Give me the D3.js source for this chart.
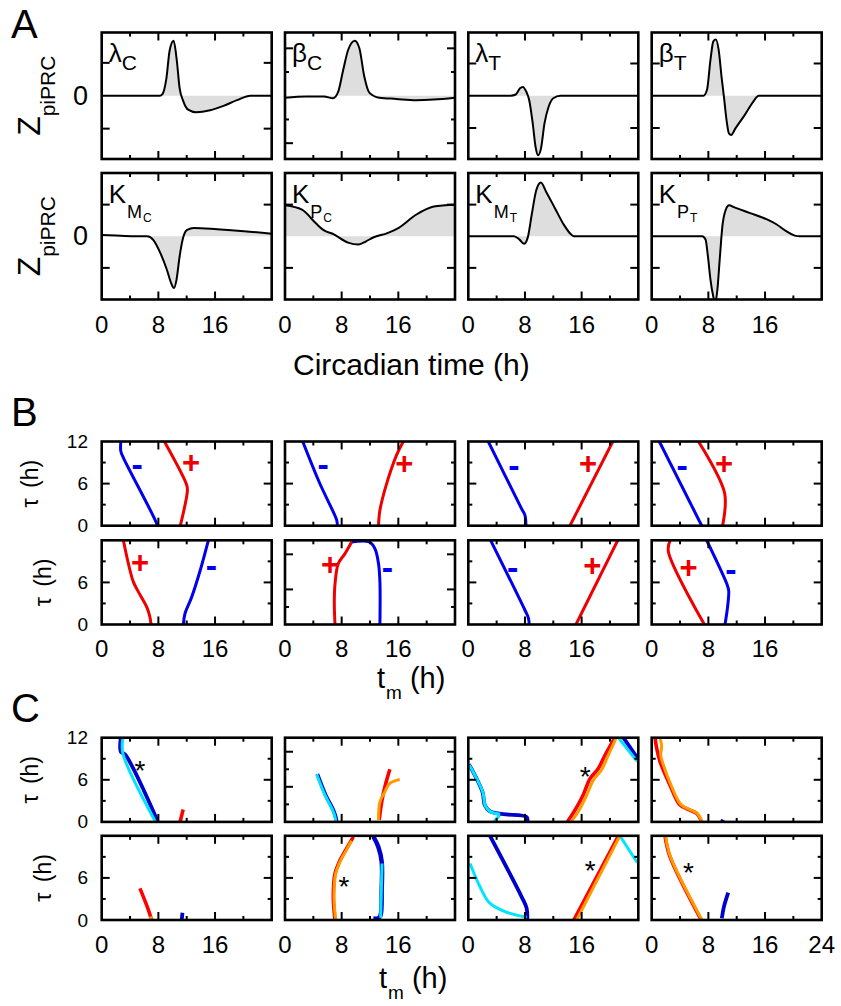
<!DOCTYPE html>
<html><head><meta charset="utf-8">
<script src="https://cdn.jsdelivr.net/npm/d3@7"></script>
<style>
body{margin:0;background:#fff}
svg{display:block}
text{font-family:"Liberation Sans",Arial,Helvetica,sans-serif;fill:#000}
</style>
</head><body>
<svg id="fig" width="841" height="1006"></svg>
<script>
// ---------------- DATA ----------------
const hourDomain = [0, 24];
const xMajorTicks = [8, 16];
const xMinorTicks = [4, 12, 20];
const xTickLabels = [0, 8, 16];
const xTickLabelsLast = [0, 8, 16, 24];
const tauDomain = [0, 12];
const tauLabelsTop = [0, 6, 12];
const tauLabelsBottom = [0, 6];

// Panel A: piPRC curves, [circadian time (h), normalized Z]
const aLabels = [["λ","C"],["β","C"],["λ","T"],["β","T"],["K","M","C"],["K","P","C"],["K","M","T"],["K","P","T"]];
const prcLambdaC = [[0,0],[8.2,0],[8.6,0.03],[9.1,0.25],[9.6,0.72],[10.15,0.87],[10.6,0.56],[11.0,0.12],[11.5,-0.08],[12.2,-0.22],[13.3,-0.26],[15.3,-0.23],[17.2,-0.16],[19.1,-0.07],[21.0,0],[24,0]];
const prcBetaC = [[0,-0.03],[3,-0.01],[5.5,-0.01],[6.8,-0.04],[7.5,0.06],[8.2,0.4],[8.9,0.72],[9.85,0.87],[10.5,0.75],[11.2,0.3],[11.9,0.05],[13.3,-0.03],[15.7,-0.05],[18.5,-0.07],[21,-0.06],[24,-0.03]];
const prcLambdaT = [[0,0],[6.0,0],[6.7,0.02],[7.3,0.12],[7.7,0.14],[8.2,0.06],[8.6,-0.07],[9.1,-0.44],[9.5,-0.81],[9.85,-0.94],[10.25,-0.84],[10.75,-0.44],[11.35,-0.17],[12.0,-0.04],[13.0,0],[24,0]];
const prcBetaT = [[0,0],[7.3,0],[7.8,0.09],[8.3,0.57],[8.7,0.86],[9.06,0.89],[9.46,0.72],[9.86,0.3],[10.2,-0.02],[10.57,-0.39],[10.92,-0.6],[11.22,-0.62],[11.8,-0.52],[13.1,-0.31],[14.3,-0.1],[15.1,0],[24,0]];
const prcKMC = [[0,0.02],[2,0.01],[4.5,0],[6.4,0],[7.3,-0.06],[8.3,-0.27],[9.2,-0.53],[9.8,-0.74],[10.2,-0.82],[10.56,-0.69],[11.0,-0.32],[11.5,-0.02],[12.07,0.1],[13.0,0.13],[16.3,0.11],[20.1,0.08],[24,0.04]];
const prcKPC = [[0,0.49],[2.4,0.42],[4.4,0.2],[5.4,0.1],[6.9,0.03],[8.9,-0.1],[10.4,-0.13],[11.45,-0.08],[12.45,-0.02],[14.45,0.05],[16,0.13],[18.5,0.34],[21,0.47],[24,0.5]];
const prcKMT = [[0,0],[6.45,0],[7.2,-0.05],[7.87,-0.12],[8.37,-0.03],[8.98,0.36],[9.6,0.73],[10.24,0.85],[11.0,0.7],[12.25,0.44],[13.5,0.18],[14.5,0.03],[14.9,0],[24,0]];
const prcKPT = [[0,0],[7.13,0],[7.6,-0.05],[7.94,-0.32],[8.3,-0.69],[8.65,-0.93],[8.96,-1.05],[9.27,-0.85],[9.6,-0.37],[9.98,0.16],[10.46,0.42],[10.93,0.49],[11.6,0.46],[13.8,0.37],[16.2,0.27],[17.6,0.19],[19.0,0.08],[20.2,0.01],[20.9,0],[24,0]];
const aCurves = [prcLambdaC, prcBetaC, prcLambdaT, prcBetaT, prcKMC, prcKPC, prcKMT, prcKPT];
// y ticks [value, isMajor]
const aYTicks = [
  [[-0.52,1],[0.52,1]],
  [[-0.75,1],[-0.375,0],[0.375,0],[0.75,1]],
  [[-0.51,1],[0.51,1]],
  [[-0.51,1],[0.51,1]],
  [[-0.5,1],[0.5,1]],
  [[-0.5,1],[0.5,1]],
  [[-0.5,1],[0.5,1]],
  [[-0.5,1],[0.5,1]]
];

// Panel B: [t_m (h), tau (h)], panels in row-major order
const bMinus = [
  [[2.7,12],[2.7,10.6],[3.1,9.6],[7.76,0.3],[7.8,0]],
  [[2.5,12],[4.9,6.05],[6.8,2.0],[7.3,0.8],[7.4,0]],
  [[2.82,12],[7.53,2.4],[8.0,1.47],[8.14,0]],
  [[1.08,12],[7.06,0]],
  [[11.53,0],[11.76,1.57],[12.7,3.9],[13.9,7.7],[15.06,12]],
  [[9.4,11.76],[11.9,11.76],[12.7,10.8],[13.2,8.7],[13.4,6.07],[13.4,0]],
  [[3.15,12],[8.0,2.03],[8.47,0.97],[8.6,0]],
  [[7.76,12],[10.6,5.8],[10.87,4.84],[10.7,2.42],[10.35,0]]
];
const bPlus = [
  [[8.85,12],[12.0,5.8],[12.1,5.0],[11.1,0]],
  [[13.2,0],[13.4,2.2],[14.35,6.0],[15.76,10.1],[16.7,12]],
  [[14.35,0],[20.4,12]],
  [[6.6,12],[10.3,4.6],[10.0,0]],
  [[3.06,12],[3.76,8.7],[4.47,6.07],[5.18,4.65],[6.35,2.5],[6.8,1.1],[6.96,0]],
  [[7.06,0],[6.96,3],[7.06,5.8],[7.53,8.7],[8.47,10.1],[9.4,11.76]],
  [[15.2,0],[21.1,12]],
  [[2.6,12],[2.35,10.4],[7.44,0]]
];
// sign markers [sign, t, tau]
const bSigns = [
  [["-",5.0,9.1],["+",12.6,9.0]],
  [["-",5.4,9.1],["+",16.85,8.9]],
  [["-",6.45,9.0],["+",16.9,8.8]],
  [["-",4.3,9.0],["+",10.2,8.8]],
  [["+",5.4,8.9],["-",15.5,8.8]],
  [["+",6.35,8.6],["-",14.45,8.45]],
  [["-",6.26,8.47],["+",17.5,8.47]],
  [["+",5.2,8.1],["-",11.2,8.2]]
];
const bYTicks = [null,null,null,null,null,[[2.5,0],[5,1],[10,1]],null,null];

// Panel C: each entry = list of segments
const cBlue = [
  [[[2.7,12],[2.7,10],[3.3,9.6],[7.9,0.1]]],
  [[[4.57,6.8],[5.75,3.8],[6.83,1.67],[7.25,0.3],[7.25,0]]],
  [[[0.1,8.2],[1.35,5.8],[2.05,4.1],[2.3,2.45],[3.0,1.55],[4.94,1.1],[8.24,0.7],[8.33,0]],[[21.9,12],[23.9,9.05]]],
  [[[9.9,0],[10.1,0.3]]],
  [[[11.3,0],[11.4,1.04]]],
  [[[12.47,11.9],[13.17,10.45],[13.65,8.3],[13.65,4.3],[13.5,0.7],[13.2,0.25],[12.47,0.2]]],
  [[[3.06,12],[7.53,3.3],[8.24,1.66],[8.33,0]]],
  [[[9.9,0.24],[10.2,1.9],[10.8,3.9]]]
];
const cCyan = [
  [[[3.0,12],[3.0,9.7],[7.6,0]]],
  [[[4.47,6.8],[5.65,3.8],[6.73,1.67],[7.15,0.3],[7.15,0]]],
  [[[0.14,8.1],[1.41,5.7],[2.1,4.05],[2.35,2.4],[3.06,1.5],[4.5,1.1]],[[3.6,0],[4.4,0.9]],[[21.2,12],[23.86,8.6]]],
  [],
  [],
  [[[13.7,8.06],[13.6,4.3],[13.5,0.3]]],
  [[[0.24,8.06],[1.65,4.74],[2.96,2.47],[5.18,1.19],[8.24,0.38]],[[21.4,12],[23.86,8.16]]],
  []
];
const cRed = [
  [[[11.06,0],[11.5,1.76]]],
  [[[13.3,0.3],[13.65,2.86],[14.1,5.0],[14.8,7.5]]],
  [[[13.98,0],[15.06,1.67],[16.2,3.8],[17.2,6.2],[18.35,7.6],[19.3,9.5],[20.7,12]]],
  [[[0.47,12],[0.7,10.5],[1.18,8.6],[2.59,5.24],[4.0,2.4],[5.4,1.67],[6.35,1.2],[7.06,0]]],
  [[[5.4,4.5],[6.6,1.42],[6.9,0.47],[7.06,0]]],
  [[[7.06,0],[6.82,3.3],[7.06,6.6],[7.76,8.5],[8.7,10.2],[9.65,11.85]]],
  [[[14.9,0],[21.2,12]]],
  [[[1.88,12],[2.55,9.1],[7.0,0]]]
];
const cOrange = [
  [],
  [[[13.2,0.3],[13.4,2.86],[13.98,4.05],[14.8,5.5],[16.2,6.05]]],
  [[[14.45,0],[15.5,1.43],[16.7,3.8],[17.65,5.95],[18.8,7.4],[19.76,9.5],[20.9,12]]],
  [[[1.18,12],[1.4,10.7],[1.27,9.5],[1.65,8.1],[2.7,5.3],[4.1,2.5],[5.5,1.7],[6.4,1.25],[7.1,0]]],
  [[[6.85,0.5],[7.06,0]]],
  [[[7.16,0],[6.92,3.3],[7.16,6.6],[7.86,8.5],[8.8,10.2],[9.4,11.3]]],
  [[[15.3,0],[21.4,12]]],
  [[[1.95,12],[2.65,9.0],[7.1,0]]]
];
const cStars = [[5.4,8.3],null,[16.5,7.4],null,null,[8.33,5.7],[17.2,8.0],[5.2,7.7]];
const cYTicks = [null,[[2.5,0],[5,1],[7.5,0],[10,1]],null,null,null,null,null,null];

// ---------------- LAYOUT ----------------
const svg = d3.select("#fig");
const colX = [101.7, 285, 468.3, 651.7];
const PW = 170;
const rowsA = [32.5, 173], hA = 126.5;
const rowsB = [441.5, 540.3], hB = 84.2;
const rowsC = [737.7, 835.8], hC = 84.2;
const COL = {blueB:"#0000ee", redB:"#ee0000", blue:"#0000cc", cyan:"#00e5ff", red:"#ff0000", orange:"#ff9a00", fill:"#dedede"};
let clipN = 0;

function makePanel(x0, y0, h, yDom) {
  const id = "clip" + (clipN++);
  svg.append("clipPath").attr("id", id).append("rect")
    .attr("x", x0).attr("y", y0).attr("width", PW).attr("height", h);
  const x = d3.scaleLinear().domain(hourDomain).range([x0, x0 + PW]);
  const y = d3.scaleLinear().domain(yDom).range([y0 + h, y0]);
  const g = svg.append("g");
  const plot = g.append("g").attr("clip-path", `url(#${id})`);
  return {x, y, g, plot, x0, y0, h};
}

function frame(p, yTicks) {
  const g = p.g;
  const xt = xMajorTicks.map(v => [v, 1]).concat(xMinorTicks.map(v => [v, 0]));
  xt.forEach(([v, m]) => {
    const L = m ? 8 : 4, xx = p.x(v);
    g.append("line").attr("x1", xx).attr("x2", xx).attr("y1", p.y0 + p.h).attr("y2", p.y0 + p.h - L).attr("stroke", "#000").attr("stroke-width", 2);
    g.append("line").attr("x1", xx).attr("x2", xx).attr("y1", p.y0).attr("y2", p.y0 + L).attr("stroke", "#000").attr("stroke-width", 2);
  });
  yTicks.forEach(([v, m]) => {
    const L = m ? 8 : 4, yy = p.y(v);
    g.append("line").attr("x1", p.x0).attr("x2", p.x0 + L).attr("y1", yy).attr("y2", yy).attr("stroke", "#000").attr("stroke-width", 2);
    g.append("line").attr("x1", p.x0 + PW).attr("x2", p.x0 + PW - L).attr("y1", yy).attr("y2", yy).attr("stroke", "#000").attr("stroke-width", 2);
  });
  g.append("rect").attr("x", p.x0).attr("y", p.y0).attr("width", PW).attr("height", p.h)
    .attr("fill", "none").attr("stroke", "#000").attr("stroke-width", 2.6);
}

function xLabels(p, vals, baseline) {
  vals.forEach(v => {
    svg.append("text").attr("x", p.x(v)).attr("y", baseline).attr("text-anchor", "middle")
      .style("font-size", "24px").text(v);
  });
}

function sectionLetter(s, y) {
  svg.append("text").attr("x", 11).attr("y", y).style("font-size", "40px").text(s);
}

// ---------------- PANEL A ----------------
sectionLetter("A", 38.3);
for (let i = 0; i < 8; i++) {
  const r = Math.floor(i / 4), c = i % 4;
  const p = makePanel(colX[c], rowsA[r], hA, [-1, 1]);
  const area = d3.area().x(d => p.x(d[0])).y0(p.y(0)).y1(d => p.y(d[1])).curve(d3.curveMonotoneX);
  const line = d3.line().x(d => p.x(d[0])).y(d => p.y(d[1])).curve(d3.curveMonotoneX);
  p.plot.append("path").attr("d", area(aCurves[i])).attr("fill", COL.fill);
  p.plot.append("path").attr("d", line(aCurves[i])).attr("fill", "none").attr("stroke", "#000").attr("stroke-width", 2);
  frame(p, aYTicks[i]);
  // label
  const lab = aLabels[i];
  const t = svg.append("text").attr("x", p.x0 + 7).attr("y", p.y0 + 29.5);
  t.append("tspan").style("font-size", "26px").text(lab[0]);
  if (lab.length === 2) {
    t.append("tspan").style("font-size", "21px").attr("dy", 8).text(lab[1]);
  } else {
    t.append("tspan").style("font-size", "18px").attr("dy", 15).attr("dx", 1).text(lab[1]);
    t.append("tspan").style("font-size", "12px").attr("dy", 4).attr("dx", 1).text(lab[2]);
  }
  if (c === 0) {
    svg.append("text").attr("x", 88).attr("y", p.y(0)).attr("text-anchor", "end")
      .attr("dominant-baseline", "central").style("font-size", "27px").text("0");
    const zl = svg.append("text").attr("transform", `translate(40,${p.y0 + p.h / 2}) rotate(-90)`)
      .attr("text-anchor", "middle");
    zl.append("tspan").style("font-size", "32px").text("Z");
    zl.append("tspan").style("font-size", "21px").attr("dy", 15).text("piPRC");
  }
  if (r === 1) xLabels(p, xTickLabels, 333);
}
svg.append("text").attr("x", 293).attr("y", 375).style("font-size", "30px").text("Circadian time (h)");

// ---------------- helpers for B & C ----------------
function tauAxisLabels(p, vals) {
  vals.forEach(v => {
    svg.append("text").attr("x", 88).attr("y", p.y(v)).attr("text-anchor", "end")
      .attr("dominant-baseline", "central").style("font-size", "19px").text(v);
  });
}
function tauTitle(x, y) {
  svg.append("text").attr("transform", `translate(${x},${y}) rotate(-90)`).attr("text-anchor", "middle")
    .style("font-size", "23px").style("word-spacing", "4px").text("τ (h)");
}
function tmTitle(x, y) {
  const t = svg.append("text").attr("x", x).attr("y", y);
  t.append("tspan").style("font-size", "29px").text("t");
  t.append("tspan").style("font-size", "19px").attr("dy", 11).attr("dx", 1).text("m");
  t.append("tspan").style("font-size", "29px").attr("dy", -11).text(" (h)");
}
const stdTauTicks = [[3,0],[6,1],[9,0]];

// ---------------- PANEL B ----------------
sectionLetter("B", 426);
for (let i = 0; i < 8; i++) {
  const r = Math.floor(i / 4), c = i % 4;
  const p = makePanel(colX[c], rowsB[r], hB, tauDomain);
  const line = d3.line().x(d => p.x(d[0])).y(d => p.y(d[1])).curve(d3.curveCatmullRom.alpha(0.5));
  p.plot.append("path").attr("d", line(bMinus[i])).attr("fill", "none").attr("stroke", COL.blueB).attr("stroke-width", 3);
  p.plot.append("path").attr("d", line(bPlus[i])).attr("fill", "none").attr("stroke", COL.redB).attr("stroke-width", 3);
  bSigns[i].forEach(([s, tm, tau]) => {
    p.g.append("text").attr("x", p.x(tm)).attr("y", p.y(tau) + (s === "-" ? 2 : 0))
      .attr("text-anchor", "middle").attr("dominant-baseline", "central")
      .style("font-size", s === "-" ? "34px" : "31px").style("font-weight", "bold")
      .style("fill", s === "-" ? COL.blueB : COL.redB).text(s);
  });
  frame(p, bYTicks[i] || stdTauTicks);
  if (c === 0) {
    tauAxisLabels(p, r === 0 ? tauLabelsTop : tauLabelsBottom);
    tauTitle(r === 0 ? 38 : 51, p.y0 + p.h / 2);
  }
  if (r === 1) xLabels(p, xTickLabels, 657);
}
tmTitle(377, 688);

// ---------------- PANEL C ----------------
sectionLetter("C", 722);
for (let i = 0; i < 8; i++) {
  const r = Math.floor(i / 4), c = i % 4;
  const p = makePanel(colX[c], rowsC[r], hC, tauDomain);
  const line = d3.line().x(d => p.x(d[0])).y(d => p.y(d[1])).curve(d3.curveCatmullRom.alpha(0.5));
  const draw = (segs, col, w) => segs.forEach(s => p.plot.append("path").attr("d", line(s))
    .attr("fill", "none").attr("stroke", col).attr("stroke-width", w));
  draw(cBlue[i], COL.blue, i === 5 ? 4.5 : 3.8);
  draw(cCyan[i], COL.cyan, 3);
  draw(cRed[i], COL.red, 3.6);
  draw(cOrange[i], COL.orange, 3);
  if (cStars[i]) {
    p.g.append("text").attr("x", p.x(cStars[i][0])).attr("y", p.y(cStars[i][1]) + 16)
      .attr("text-anchor", "middle").style("font-size", "28px").text("*");
  }
  frame(p, cYTicks[i] || stdTauTicks);
  if (c === 0) {
    tauAxisLabels(p, r === 0 ? tauLabelsTop : tauLabelsBottom);
    tauTitle(r === 0 ? 38 : 51, p.y0 + p.h / 2);
  }
  if (r === 1) xLabels(p, c === 3 ? xTickLabelsLast : xTickLabels, 953);
}
tmTitle(379, 988);
</script>
</body></html>
